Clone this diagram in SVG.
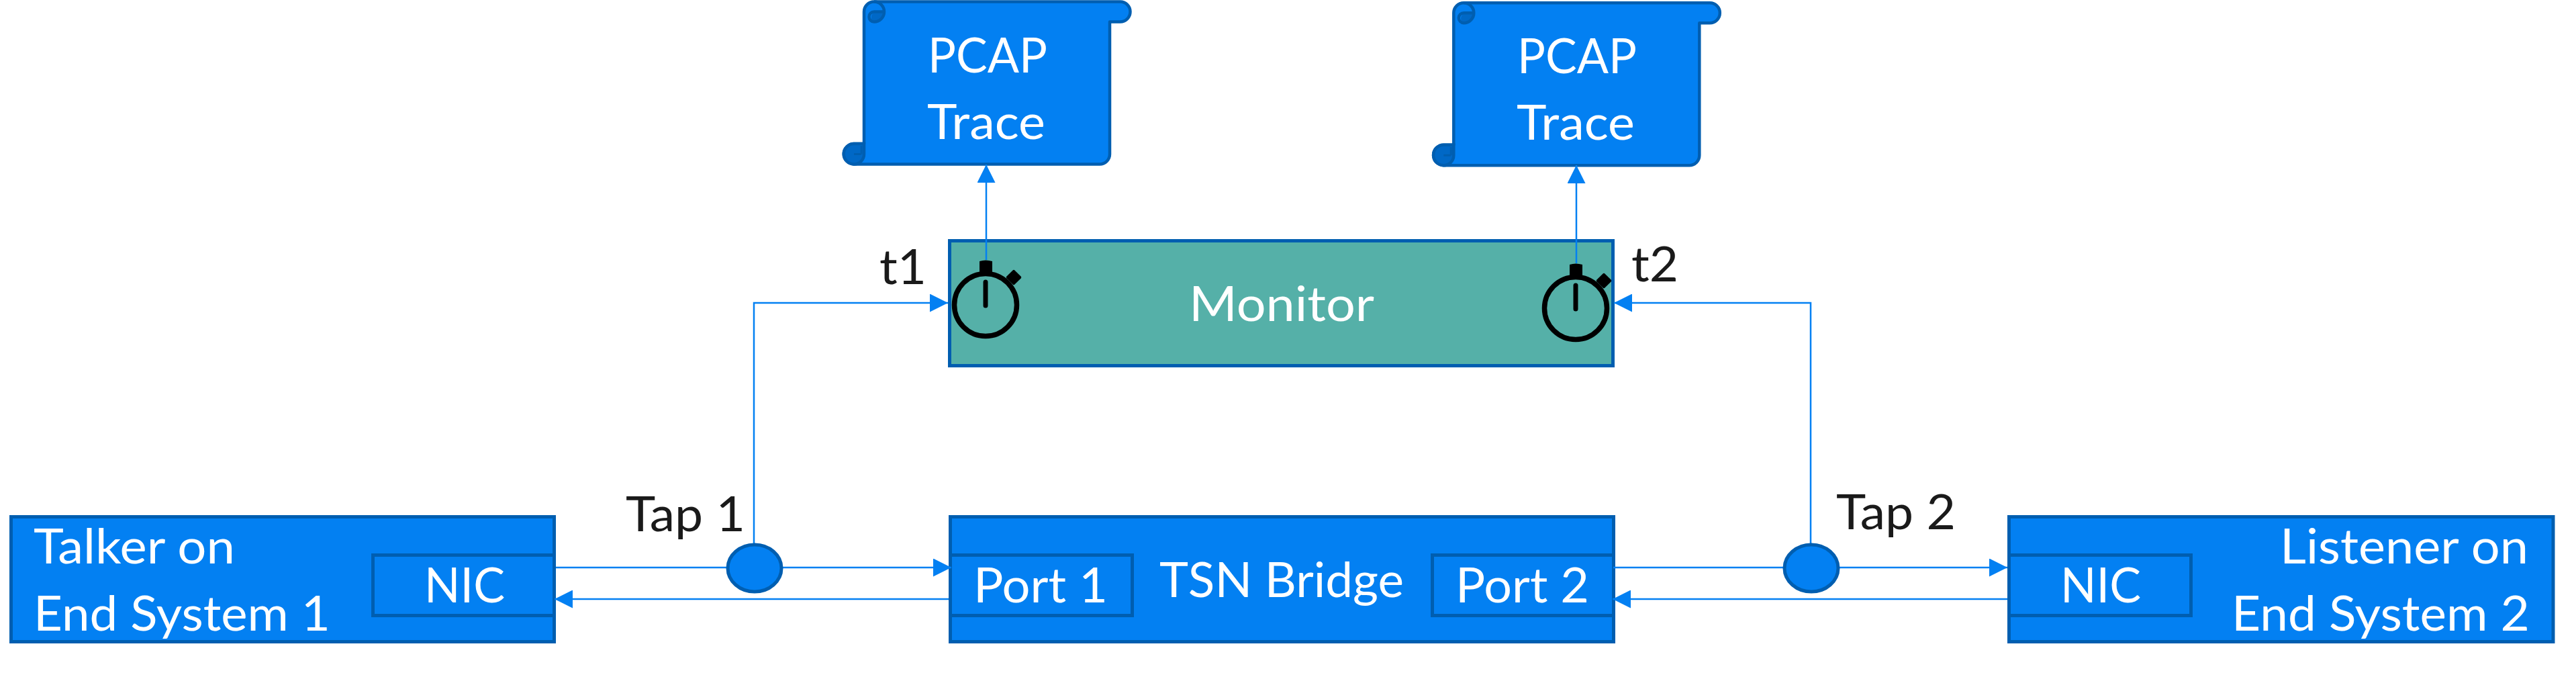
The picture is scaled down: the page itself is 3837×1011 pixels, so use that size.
<svg xmlns="http://www.w3.org/2000/svg" width="3837" height="1011" viewBox="0 0 3837 1011">
<style>
.box{fill:#0380F2;stroke:#005EB0;stroke-width:5}
.mon{fill:#55B0A8;stroke:#005EB0;stroke-width:5}
.ln{fill:none;stroke:#0380F2;stroke-width:2.5}
.dk{fill:#0068C6;stroke:#005EB0;stroke-width:4.5}
text{font-family:Lato,"Liberation Sans",sans-serif;font-size:72px;fill:#fff}
.k{fill:#1a1a1a}
</style>
<defs>
<marker id="ah" viewBox="0 0 27 27" refX="27" refY="13.5" markerWidth="27" markerHeight="27" markerUnits="userSpaceOnUse" orient="auto"><path d="M0 0L27 13.5L0 27Z" fill="#0380F2"/></marker>
<g id="scroll">
<path d="M1272 244.5H1638A15 15 0 0 0 1653 229.5V32.5H1668.5A15 15 0 0 0 1668.5 2.5H1302A15 15 0 0 0 1287 17.5V214H1272A15 15 0 0 0 1272 244.5Z" fill="#0380F2" stroke="#005EB0" stroke-width="4.5" stroke-linejoin="round"/>
<path d="M1302 32.5A7.5 7.5 0 0 1 1302 19H1315A15 15 0 0 1 1302 32.5Z" fill="#0068C6"/>
<path d="M1302 2.5A15 15 0 0 1 1302 32.5A7.5 7.5 0 0 1 1302 17.5H1317" fill="none" stroke="#005EB0" stroke-width="4.5"/>
<path d="M1272 214H1287V229.5A15 15 0 0 1 1272 244.5A15 15 0 0 1 1272 214Z" class="dk"/>
<path d="M1272 229.5H1283M1283 217V229.5" fill="none" stroke="#005EB0" stroke-width="3"/>
</g>
<g id="watch">
<circle cx="0" cy="0" r="46.5" fill="none" stroke="#000" stroke-width="7.5"/>
<path d="M-9 -45V-65Q0 -68 10 -65V-45Z" fill="#000"/>
<rect x="-8.5" y="-8.5" width="17" height="17" rx="2" transform="translate(42 -41) rotate(45)" fill="#000"/>
<path d="M0 -34V1" stroke="#000" stroke-width="7" stroke-linecap="round"/>
</g>
</defs>
<g id="trace1"><use href="#scroll"/><text x="1382" y="108" textLength="178" lengthAdjust="spacingAndGlyphs">PCAP</text><text x="1381" y="207" textLength="176" lengthAdjust="spacingAndGlyphs">Trace</text></g>
<g id="trace2"><use href="#scroll" transform="translate(878.3 1.7)"/><text x="2260" y="109" textLength="178" lengthAdjust="spacingAndGlyphs">PCAP</text><text x="2259" y="208" textLength="176" lengthAdjust="spacingAndGlyphs">Trace</text></g>
<g id="monitor"><rect class="mon" x="1414.5" y="358.5" width="988" height="186"/><use href="#watch" x="1468" y="454"/><use href="#watch" x="2347" y="459"/><text x="1771" y="478" textLength="276" lengthAdjust="spacingAndGlyphs">Monitor</text></g>
<g id="talker"><rect class="box" x="16.5" y="769.5" width="809" height="186"/><text x="50" y="839" textLength="300" lengthAdjust="spacingAndGlyphs">Talker on</text><text x="50" y="939" textLength="442" lengthAdjust="spacingAndGlyphs">End System 1</text></g>
<g id="nic1"><rect class="box" x="555.5" y="826.5" width="270" height="90"/><text x="632" y="897" textLength="120" lengthAdjust="spacingAndGlyphs">NIC</text></g>
<g id="bridge"><rect class="box" x="1415.5" y="769.5" width="988" height="186"/><text x="1727" y="889" textLength="364" lengthAdjust="spacingAndGlyphs">TSN Bridge</text></g>
<g id="port1"><rect class="box" x="1415.5" y="826.5" width="271" height="90"/><text x="1450" y="897" textLength="200" lengthAdjust="spacingAndGlyphs">Port 1</text></g>
<g id="port2"><rect class="box" x="2133.5" y="826.5" width="270" height="90"/><text x="2168" y="897" textLength="199" lengthAdjust="spacingAndGlyphs">Port 2</text></g>
<g id="listener"><rect class="box" x="2992.5" y="769.5" width="810.5" height="186"/><text x="3396" y="839" textLength="370" lengthAdjust="spacingAndGlyphs">Listener on</text><text x="3324" y="939" textLength="444" lengthAdjust="spacingAndGlyphs">End System 2</text></g>
<g id="nic2"><rect class="box" x="2992.5" y="826.5" width="271" height="90"/><text x="3069" y="897" textLength="120" lengthAdjust="spacingAndGlyphs">NIC</text></g>
<g id="connectors">
<path class="ln" marker-end="url(#ah)" d="M828 845H1417"/>
<path class="ln" marker-end="url(#ah)" d="M1413 892H826"/>
<path class="ln" marker-end="url(#ah)" d="M2403 845H2990"/>
<path class="ln" marker-end="url(#ah)" d="M2990 892H2402"/>
<path class="ln" marker-end="url(#ah)" d="M1123 815V451H1412"/>
<path class="ln" marker-end="url(#ah)" d="M2697 815V451H2404"/>
<path class="ln" marker-end="url(#ah)" d="M1469 387V245"/>
<path class="ln" marker-end="url(#ah)" d="M2348 392V246"/>
</g>
<g id="tap1"><ellipse class="box" cx="1124" cy="846" rx="40" ry="35"/><text class="k" x="932" y="791" textLength="178" lengthAdjust="spacingAndGlyphs">Tap 1</text></g>
<g id="tap2"><ellipse class="box" cx="2698" cy="846" rx="40" ry="35"/><text class="k" x="2735" y="788" textLength="178" lengthAdjust="spacingAndGlyphs">Tap 2</text></g>
<text class="k" x="1310" y="423" textLength="70" lengthAdjust="spacingAndGlyphs">t1</text>
<text class="k" x="2430" y="419" textLength="70" lengthAdjust="spacingAndGlyphs">t2</text>
</svg>
